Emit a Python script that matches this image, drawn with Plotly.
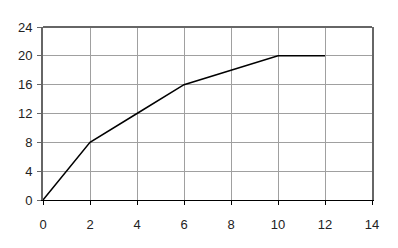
import plotly.graph_objects as go

x_vals = [0, 2, 4, 6, 8, 10, 12]
y_vals = [0, 8, 12, 16, 18, 20, 20]
x_ticks = [0, 2, 4, 6, 8, 10, 12, 14]
y_ticks = [0, 4, 8, 12, 16, 20, 24]

fig = go.Figure()
fig.add_trace(go.Scatter(x=x_vals, y=y_vals, mode="lines",
                         line=dict(color="black", width=1.5), showlegend=False))

fig.update_layout(
    width=398, height=248,
    margin=dict(l=43, r=26, t=27, b=48),
    paper_bgcolor="white", plot_bgcolor="white",
    font=dict(family="Liberation Sans, Arial, sans-serif", size=13, color="#222"),
    xaxis=dict(range=[0, 14], tickvals=x_ticks, ticktext=[str(v) for v in x_ticks],
               showgrid=True, gridcolor="#a0a0a0", gridwidth=1,
               showline=True, linecolor="black", linewidth=1,
               ticks="outside", ticklen=4, tickcolor="black", zeroline=False,
               ticklabelstandoff=8),
    yaxis=dict(range=[0, 24], tickvals=y_ticks, ticktext=[str(v) for v in y_ticks],
               showgrid=True, gridcolor="#a0a0a0", gridwidth=1,
               showline=True, linecolor="#666666", linewidth=2, mirror=True,
               ticks="outside", ticklen=4, tickcolor="#666666", zeroline=False,
               ticklabelstandoff=2),
)
fig.add_shape(type="line", xref="paper", yref="paper", x0=0, x1=1, y0=1, y1=1,
              line=dict(color="#666666", width=2))

fig.write_html("out.html")
